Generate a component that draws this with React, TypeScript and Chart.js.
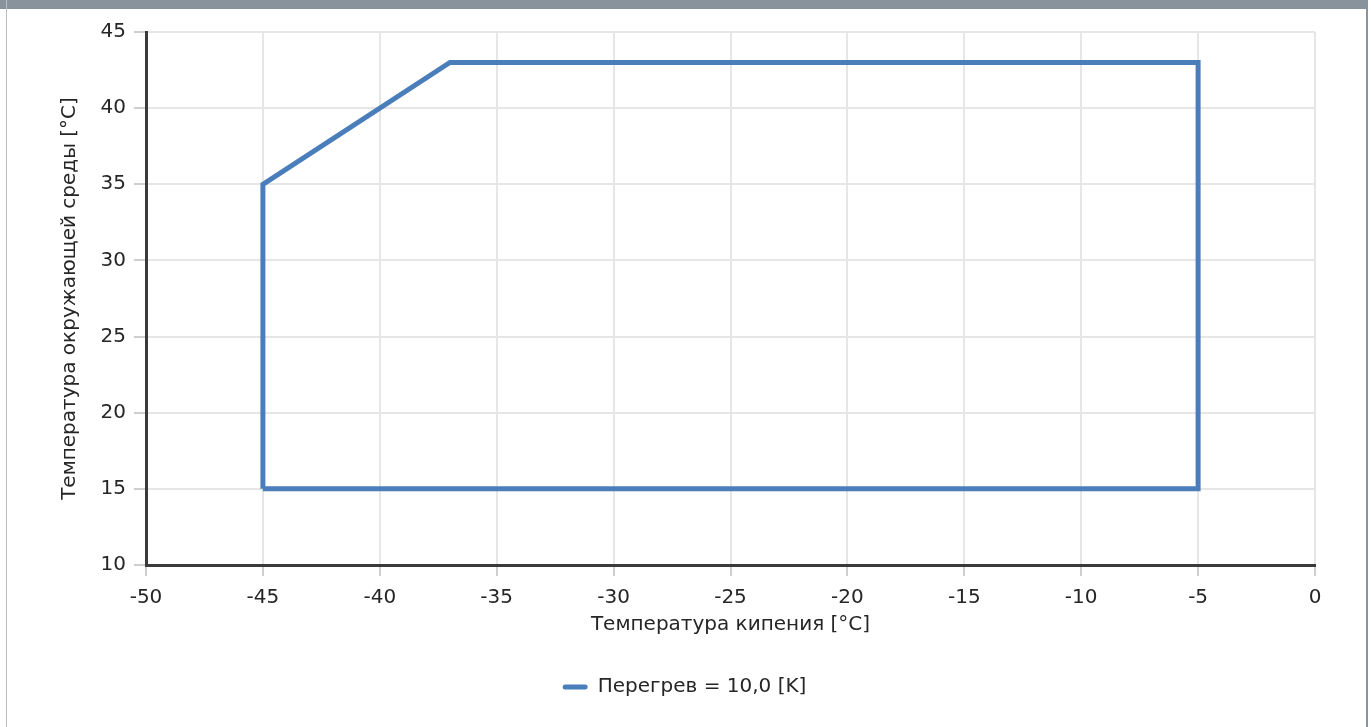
import React, { useEffect, useRef } from "react";
import { Chart, registerables } from "chart.js";

Chart.register(...registerables);

const seriesLabel = "Перегрев = 10,0 [K]";
const boilingTemp = [-45, -45, -37, -5, -5, -45];
const ambientTemp = [15, 35, 43, 43, 15, 15];
const xTitle = "Температура кипения [°C]";
const yTitle = "Температура окружающей среды [°C]";
const xMin = -50, xMax = 0, xStep = 5;
const yMin = 10, yMax = 45, yStep = 5;

const FONT = "'DejaVu Sans', Verdana, sans-serif";
const FS = 20;
const LINE = "#4a7ebb";
const FRAME = "#88939c";
const TEXT = "#262626";

export default function App() {
  const ref = useRef<HTMLCanvasElement | null>(null);

  useEffect(() => {
    if (!ref.current) return;
    const chart = new Chart(ref.current, {
      type: "line",
      data: {
        datasets: [
          {
            label: seriesLabel,
            data: boilingTemp.map((x, i) => ({ x, y: ambientTemp[i] })),
            borderColor: LINE,
            backgroundColor: LINE,
            borderWidth: 5,
            pointRadius: 0,
            tension: 0,
            fill: false,
            borderJoinStyle: "miter",
          },
        ],
      },
      options: {
        animation: false,
        responsive: false,
        maintainAspectRatio: false,
        layout: { padding: { left: 54, right: 56, top: 32, bottom: 20 } },
        plugins: {
          tooltip: { enabled: false },
          legend: {
            position: "bottom",
            labels: {
              font: { family: FONT, size: FS },
              color: TEXT,
              boxWidth: 25,
              boxHeight: 5,
              padding: 10,
              useBorderRadius: true,
              borderRadius: 2.5,
              generateLabels: (c: any) =>
                c.data.datasets.map((d: any, i: number) => ({
                  text: d.label,
                  fillStyle: LINE,
                  strokeStyle: LINE,
                  lineWidth: 0,
                  borderRadius: 2.5,
                  hidden: false,
                  datasetIndex: i,
                  fontColor: TEXT,
                })),
            },
          },
        },
        scales: {
          x: {
            type: "linear",
            min: xMin,
            max: xMax,
            ticks: {
              stepSize: xStep,
              font: { family: FONT, size: FS },
              color: TEXT,
              padding: 10,
              maxRotation: 0,
            },
            grid: { color: "#e6e6e6", lineWidth: 2, tickLength: 11, tickColor: "#cfcfcf" },
            border: { color: "#3a3a3a", width: 3 },
            title: {
              display: true,
              text: xTitle,
              font: { family: FONT, size: FS },
              color: TEXT,
              padding: { top: 0, bottom: 30 },
            },
            afterFit: (scale: any) => {
              const lg = scale.chart.legend;
              const L = lg && lg.height ? lg.height : 40;
              scale.height = scale.chart.height - 20 - L - 565;
            },
          },
          y: {
            type: "linear",
            min: yMin,
            max: yMax,
            ticks: {
              stepSize: yStep,
              font: { family: FONT, size: FS },
              color: TEXT,
              padding: 8,
            },
            grid: { color: "#e6e6e6", lineWidth: 2, tickLength: 12, tickColor: "#cfcfcf" },
            border: { color: "#3a3a3a", width: 3 },
            title: {
              display: true,
              text: yTitle,
              font: { family: FONT, size: FS },
              color: TEXT,
              padding: { top: 4, bottom: 4 },
            },
            afterFit: (scale: any) => {
              scale.width = 146 - 54;
            },
          },
        },
      } as any,
    });
    return () => chart.destroy();
  }, []);

  return (
    <div style={{ position: "fixed", left: 0, top: 0, width: 1371, height: 727, background: "#fff" }}>
      <canvas ref={ref} width={1371} height={727} style={{ position: "absolute", left: 0, top: 0, width: 1371, height: 727 }} />
      <div style={{ position: "absolute", left: 0, top: 0, width: 1368, height: 9, background: FRAME }} />
      <div style={{ position: "absolute", left: 6, top: 0, width: 1, height: 727, background: "#b8bec4" }} />
      <div style={{ position: "absolute", left: 1366, top: 0, width: 2, height: 727, background: FRAME }} />
    </div>
  );
}
